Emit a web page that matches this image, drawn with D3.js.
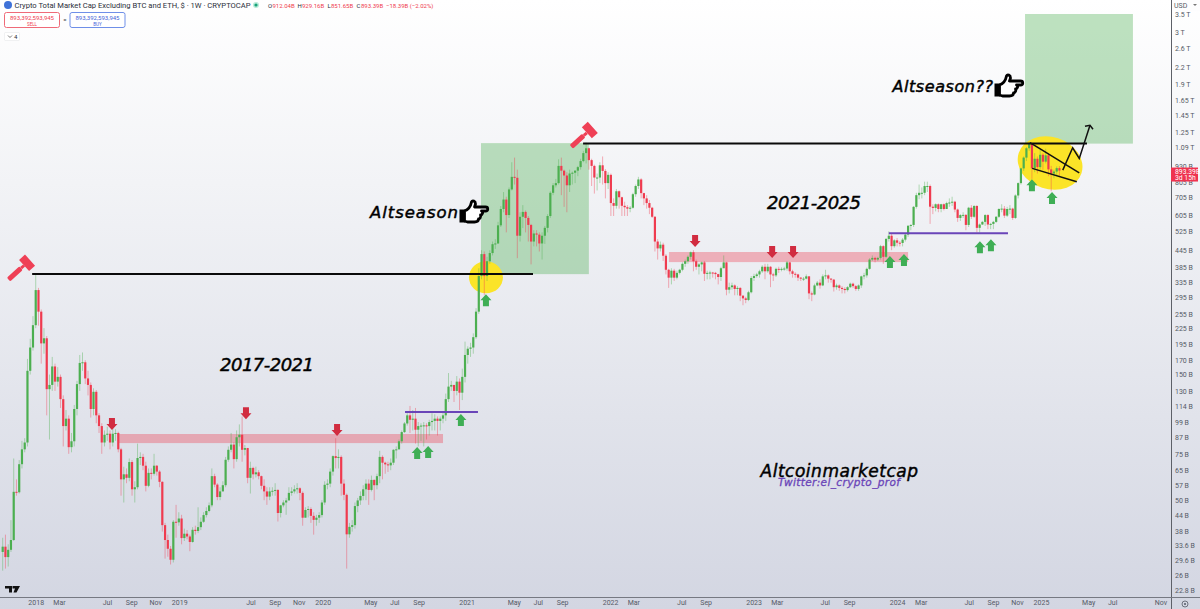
<!DOCTYPE html>
<html><head><meta charset="utf-8">
<style>html,body{margin:0;padding:0;background:#fff}svg{display:block}
.ui{font-family:"Roboto",sans-serif}
.hand{font-family:"DejaVu Sans",sans-serif;font-style:italic;font-weight:400;fill:#000;stroke:#000;stroke-width:.45}
</style>
<script src="https://cdnjs.cloudflare.com/ajax/libs/d3/7.8.5/d3.min.js"></script>
</head><body><svg id="c" width="1200" height="609"></svg>
<script>
// weekly candles, $ billions. open of each week = previous close
const firstWeek = "2017-10-09";
const firstOpen = 31.8;
const closes = [
33.3,30.4,32.4,35.3,53.8,53.6,68.5,78,82.8,155,
190,231,314,260,197,206,132,137,161,141,
147,121,95.6,102,79.5,83.7,111,138,166,167,
145,137,111,129,105,95.6,82.8,88.6,89.4,82.8,
89.4,90,78,60,62.7,60.8,69.8,55,56,72.3,
73,67.6,56.7,63.5,63,67.6,64.2,58.7,40.2,35.3,
32.7,29.7,41.4,41.2,42.6,35.9,37.3,36.4,34.7,38.6,
38.2,39.5,41.4,43.9,45.5,47.8,61.7,57.3,51.4,54,
57,71.2,77.7,81.3,71.6,86.7,88.6,77.7,78.9,60.8,
66.3,62.7,63.8,61.7,56.7,54,51.6,54,54.3,54.7,
44.7,47.8,49,49.9,53.3,54,55,55.5,53.3,42.9,
45.9,46.3,43.6,42.1,42.9,43.9,49,57.2,57.8,64.2,
73.5,72.3,73,57.8,52.4,37.1,39.6,40.2,47.5,49.9,
51.9,55,57.8,54.7,59.7,57,61.7,73,69.4,68.4,
67.8,69.4,77.7,78,83.7,90.7,97.8,105,101,102,
92.6,95.6,96,96.2,95.6,99,100,102,100,102,
105,121,135,137,130,141,128,147,178,188,
190,208,260,355,430,355,404,434,469,472,
553,638,693,605,757,845,838,505,596,622,
590,555,480,515,510,472,505,541,600,735,
785,800,930,892,855,785,870,876,892,920,
970,1040,1085,978,930,840,840,935,890,800,
860,672,656,745,707,656,648,640,645,726,
780,826,733,700,672,645,596,480,452,467,
424,375,350,372,350,365,375,395,404,420,
437,404,385,393,400,362,365,366,365,361,
352,380,400,315,322,327,317,320,299,292,
288,308,349,355,360,370,385,370,385,360,
357,378,376,378,379,400,370,362,360,350,
347,347,354,305,302,327,335,327,354,357,
347,344,322,327,320,317,314,322,332,325,
317,327,354,357,378,410,416,410,416,461,
420,491,505,461,485,475,474,488,510,551,
555,650,720,735,735,780,780,651,644,665,
638,665,638,672,675,680,635,590,605,606,
555,645,596,655,541,557,570,605,557,560,
570,596,638,640,602,638,640,590,718,800,
910,1000,1085,1130,910,990,920,1025,965,1020,
902,870,885,912,893];
const highs = [
36,37,34,42,72,60,71,84,86,172,
205,250,358,320,265,225,210,150,175,165,
160,150,125,110,105,90,115,142,178,182,
170,155,140,133,131,107,98,92,95,92,
94,93,91,79,67,66,72,71,59,82,
76,75,70,66,66,75,68,65,59,41,
37,33.5,42,48,45,44,39,38.5,37,39.5,
40,47,43,45,47,49,66,63,58,56,
59,73,80,90,83,92,97,104,81,79,
70,67,67,65,62,60,56,56,56,58,
55,48,50,51,56,56,57,58,56,54,
47,47.5,47,45,44,45,50,59,60,66,
74,86,78,74,60,53,41,42,49,51,
54,57,60,60,62,60,63,77,74,70,
70,72,78,80,85,92,99,107,114,110,
112,99,98,99,98,101,107,106,104,104,
108,127,152,142,135,148,145,158,200,192,
198,215,268,380,445,440,420,445,480,490,
570,655,740,710,770,960,1000,900,620,660,
630,600,560,530,530,520,520,550,610,745,
800,830,985,1000,900,880,900,885,895,930,
990,1060,1140,1090,990,940,870,960,1010,905,
880,870,700,760,750,710,680,660,655,735,
790,845,835,735,720,690,650,600,490,480,
475,430,378,380,378,372,378,400,410,425,
440,445,410,398,403,405,372,372,368,368,
362,385,425,402,335,335,330,325,322,300,
296,312,355,362,365,375,390,395,395,387,
365,382,385,383,385,405,402,375,367,362,
352,352,360,355,310,332,340,345,360,375,
360,348,346,332,330,325,322,325,335,335,
328,330,356,365,382,415,425,420,420,466,
465,495,525,515,490,495,482,495,515,553,
558,655,735,790,770,810,810,790,665,670,
670,668,670,680,700,710,685,640,610,620,
610,650,660,660,660,562,575,610,610,565,
575,600,642,665,655,650,660,645,725,805,
915,1010,1095,1145,1130,1040,1010,1080,1040,1080,
1040,930,900,925,929];
const lows = [
27,27.5,28,31.8,35,52,53,66,76,80,
150,185,225,230,165,180,105,85,130,130,
135,112,80,92,75,76,80,105,130,155,
138,125,103,105,98,90,75,80,84,78,
80,84,76,52,49,58,59,52,49,55,
68,65,54,56,60,62,62,56,38,30,
30.5,28.5,29,36,40,34,35,35.5,32,34.5,
37,37.5,38.5,41,43,45,47,56,50,50,
54,56,70,76,66,70,80,70,74,58,
53,60,61,60,55,50,48,50,52,52,
41.5,43,47,44,50,52,53,53,50,40,
43,43,41,37,40,41,43,48,55,56,
62,66,66,52,50,27.5,36,38,39,45,
48,50,50,48,54,50,55,58,60,63,
64,65,68,72,78,82,90,96,90,92,
82,80,84,80,85,88,92,92,88,92,
98,100,118,130,118,125,110,120,140,165,
175,180,205,255,345,300,340,395,425,450,
470,545,620,520,590,750,790,415,480,540,
520,480,393,460,460,440,410,470,520,590,
720,770,790,720,650,620,740,790,800,850,
900,960,950,900,780,730,750,800,790,700,
760,600,600,640,640,600,600,600,620,640,
710,760,700,660,640,610,590,440,410,440,
405,360,320,330,340,345,360,370,385,395,
410,370,375,360,370,340,345,345,350,345,
330,340,385,300,305,315,300,300,285,275,
280,285,305,340,350,350,365,345,365,322,
340,352,365,370,372,372,360,350,350,340,
340,340,345,290,285,300,325,318,325,345,
335,335,310,315,312,305,305,310,320,320,
312,312,320,345,350,375,405,400,405,410,
395,415,480,445,455,460,460,460,480,500,
530,545,640,695,700,720,740,560,610,625,
620,620,630,645,650,655,620,570,575,590,
530,545,585,590,520,520,555,550,535,535,
535,565,590,620,590,595,610,580,585,700,
790,890,970,1060,830,880,870,900,900,950,
850,745,835,860,851.65];

const priceTicks = [3500,3000,2600,2200,1900,1650,1450,1250,1090,930,805,705,605,525,445,385,335,295,255,225,195,170,150,130,114,99,87,75,65,57,50,44,38,33.6,29.6,26,22.8];
const priceLabels = ["3.5 T","3 T","2.6 T","2.2 T","1.9 T","1.65 T","1.45 T","1.25 T","1.09 T","930 B","805 B","705 B","605 B","525 B","445 B","385 B","335 B","295 B","255 B","225 B","195 B","170 B","150 B","130 B","114 B","99 B","87 B","75 B","65 B","57 B","50 B","44 B","38 B","33.6 B","29.6 B","26 B","22.8 B"];
const timeTicks = ["2018-01-01","2018-03-01","2018-07-01","2018-09-01","2018-11-01","2019-01-01","2019-07-01","2019-09-01","2019-11-01","2020-01-01","2020-05-01","2020-07-01","2020-09-01","2021-01-01","2021-05-01","2021-07-01","2021-09-01","2022-01-01","2022-03-01","2022-07-01","2022-09-01","2023-01-01","2023-03-01","2023-07-01","2023-09-01","2024-01-01","2024-03-01","2024-07-01","2024-09-01","2024-11-01","2025-01-01","2025-05-01","2025-07-01","2025-11-01"];
const timeLabels = ["2018","Mar","Jul","Sep","Nov","2019","Jul","Sep","Nov","2020","May","Jul","Sep","2021","May","Jul","Sep","2022","Mar","Jul","Sep","2023","Mar","Jul","Sep","2024","Mar","Jul","Sep","Nov","2025","May","Jul","Nov"];

// annotations: week number from firstWeek and price in $B
const greenZones = [[173.8,213,1135,361],[371.5,410.7,3510,1130]];
const pinkZones = [[41.9,160,89.2,82.4],[242.1,329,438,401]];
const blackLevels = [[10.7,192.7,361],[210.9,394,1130]];
const purpleLevels = [[146.2,172.7,108],[322,365.3,516]];
const downArrows = [[39.7,97.3],[88.4,107],[121.5,92.4],[251.6,482],[279.6,438],[287.2,438]];
const upArrows = [[150.6,75.5],[154.6,76.2],[166.5,100.8],[175.6,287],[322.4,401],[327.5,408],[355.1,457],[359.1,465],[374,786],[381.3,702]];
const wedgeLines = [[[373.3,1140],[391.2,875]],[[374.1,910],[390.3,809]]];
const forecastPath = [[385.2,896],[388.8,1090],[391.2,992],[395.1,1327]];
const gavels = [[7.5,387],[212,1235]];
const yellowSpots = [[175.6,351,17,16,0],[380.6,953,33,26,18]];

const N = closes.length;
const WEEK = 7*864e5;
const t0 = Date.parse(firstWeek+"T00:00:00Z");
const week = i => new Date(t0 + i*WEEK);
const x = d3.scaleUtc().domain([week(0),week(385)]).range([2.7,1062.2]);
const y = d3.scaleLog().domain([22.8,3510]).range([590,14]);
const X = i => x(week(i));
const bars = closes.map((c,i)=>({i,o:i?closes[i-1]:firstOpen,c,h:highs[i],l:lows[i]}));

const svg = d3.select("#c");
const defs = svg.append("defs");
const g = defs.append("linearGradient").attr("id","bg").attr("x1",0).attr("x2",0).attr("y1",0).attr("y2",1);
g.append("stop").attr("offset",0).attr("stop-color","#ffffff");
g.append("stop").attr("offset",.3).attr("stop-color","#f2f3f6");
g.append("stop").attr("offset",1).attr("stop-color","#d3d6e2");
svg.append("rect").attr("width",1200).attr("height",609).attr("fill","url(#bg)");
defs.append("clipPath").attr("id","pane").append("rect").attr("width",1171).attr("height",597);

const pane = svg.append("g").attr("clip-path","url(#pane)");
pane.selectAll(".gz").data(greenZones).join("rect")
 .attr("x",d=>X(d[0])).attr("width",d=>X(d[1])-X(d[0])).attr("y",d=>y(d[2])).attr("height",d=>y(d[3])-y(d[2]))
 .attr("fill","#4caf50").attr("fill-opacity",.36);
pane.selectAll(".pz").data(pinkZones).join("rect")
 .attr("x",d=>X(d[0])).attr("width",d=>X(d[1])-X(d[0])).attr("y",d=>y(d[2])).attr("height",d=>y(d[3])-y(d[2]))
 .attr("fill","#ef3f52").attr("fill-opacity",.36);
pane.selectAll(".ys").data(yellowSpots).join("ellipse")
 .attr("cx",0).attr("cy",0).attr("rx",d=>d[2]).attr("ry",d=>d[3])
 .attr("transform",d=>`translate(${X(d[0])},${y(d[1])}) rotate(${d[4]})`)
 .attr("fill","#fbe428");

// candles
const UP="#4caf50", DN="#ef3b4f";
const cg = pane.append("g");
cg.selectAll("line").data(bars).join("line")
 .attr("x1",d=>X(d.i)).attr("x2",d=>X(d.i)).attr("y1",d=>y(d.h)).attr("y2",d=>y(d.l))
 .attr("stroke",d=>d.c>=d.o?UP:DN).attr("stroke-opacity",.45).attr("stroke-width",.9);
cg.selectAll("rect").data(bars).join("rect")
 .attr("x",d=>X(d.i)-1.1).attr("width",2.2)
 .attr("y",d=>y(Math.max(d.o,d.c))).attr("height",d=>Math.max(1,Math.abs(y(d.o)-y(d.c))))
 .attr("fill",d=>d.c>=d.o?UP:DN);

// levels
pane.selectAll(".bl").data(blackLevels).join("line")
 .attr("x1",d=>X(d[0])).attr("x2",d=>X(d[1])).attr("y1",d=>y(d[2])).attr("y2",d=>y(d[2]))
 .attr("stroke","#0a0a0a").attr("stroke-width",2);
pane.selectAll(".pl").data(purpleLevels).join("line")
 .attr("x1",d=>X(d[0])).attr("x2",d=>X(d[1])).attr("y1",d=>y(d[2])).attr("y2",d=>y(d[2]))
 .attr("stroke","#6a45b8").attr("stroke-width",2);
pane.selectAll(".wl").data(wedgeLines).join("line")
 .attr("x1",d=>X(d[0][0])).attr("y1",d=>y(d[0][1])).attr("x2",d=>X(d[1][0])).attr("y2",d=>y(d[1][1]))
 .attr("stroke","#111").attr("stroke-width",1.5);
const pts = forecastPath.map(d=>[X(d[0]),y(d[1])]);
pane.append("path").attr("d",d3.line()(pts)).attr("fill","none").attr("stroke","#111").attr("stroke-width",1.5);
const tip = pts[pts.length-1];
pane.append("path").attr("d",`M${tip[0]-5},${tip[1]+1} L${tip[0]},${tip[1]} L${tip[0]+3},${tip[1]+4}`).attr("fill","none").attr("stroke","#111").attr("stroke-width",1.5);

// arrows
const arrowD="M0,-6 L5.5,0 L3,0 L3,6 L-3,6 L-3,0 L-5.5,0 Z";
pane.selectAll(".ua").data(upArrows).join("path").attr("d",arrowD)
 .attr("transform",d=>`translate(${X(d[0])},${y(d[1])})`).attr("fill","#3fae55");
pane.selectAll(".da").data(downArrows).join("path").attr("d",arrowD)
 .attr("transform",d=>`translate(${X(d[0])},${y(d[1])}) rotate(180)`).attr("fill","#d12c40");

// gavels
const gv = pane.selectAll(".gv").data(gavels).join("g")
 .attr("transform",d=>`translate(${X(d[0])},${y(d[1])}) rotate(-42)`).attr("fill","#ef4056");
gv.append("rect").attr("x",-20).attr("y",-2.5).attr("width",17).attr("height",5).attr("rx",1.5);
gv.append("rect").attr("x",-3).attr("y",-1.5).attr("width",4).attr("height",3);
gv.append("rect").attr("x",1).attr("y",-7.5).attr("width",8).attr("height",15);

// text
const T=(s,px,py,fs,w)=>pane.append("text").attr("class","hand").attr("x",px).attr("y",py).attr("font-size",fs)
  .attr("textLength",w).attr("lengthAdjust","spacing").text(s);
T("2017-2021",220,371,18,94);
T("2021-2025",767,208.5,18,94);
T("Altseason",370,218,16.5,88);
T("Altseason??",892.5,92,16,100.5);
T("Altcoinmarketcap",760.5,476.7,17,157.5);
T("Twitter:el_crypto_prof",778,485.5,10.5,122).style("fill","#6a45b8").style("stroke","#6a45b8").style("stroke-width",.3);

// pointing hands
const handD="M5,10 C8,9 11,6 12,1 C13,-1 16,0 16,3 L15,6 L26,6 C29,6 29,10 26,10 L22,10 C24,11 23,14 21,14 C22,16 20,18 19,18 C19,21 17,21 15,21 L8,21 L5,20 Z";
[[459.5,201],[994.5,75]].forEach(p=>{
 const h=pane.append("g").attr("transform",`translate(${p[0]},${p[1]})`);
 h.append("rect").attr("x",0).attr("y",8.5).attr("width",5.5).attr("height",13).attr("fill","#000");
 h.append("path").attr("d",handD).attr("fill","#fff").attr("stroke","#000").attr("stroke-width",2.8).attr("stroke-linejoin","round");
});

// TV mark
const tv=pane.append("g").attr("transform","translate(5,586)").attr("fill","#111");
tv.append("path").attr("d","M0,0 H7 V6.5 H4 V2.5 H0 Z");
tv.append("path").attr("d","M7.5,0 H15 L11.5,6.5 H8.5 L10,2.5 H7.5 Z");

// right axis
svg.append("line").attr("x1",1171.5).attr("x2",1171.5).attr("y1",0).attr("y2",609).attr("stroke","#5d6068").attr("stroke-width",1);
svg.append("line").attr("x1",0).attr("x2",1200).attr("y1",597.5).attr("y2",597.5).attr("stroke","#767982").attr("stroke-width",1);
const ya = d3.axisRight(y).tickValues(priceTicks).tickSize(0).tickPadding(0)
 .tickFormat((d,i)=>priceLabels[i]);
const yg = svg.append("g").attr("class","ui").attr("transform","translate(1175,0)").call(ya);
yg.select(".domain").remove();
yg.selectAll("text").attr("font-size",7).attr("font-family","Roboto,sans-serif").attr("fill","#555a66");
const xa = d3.axisBottom(x).tickValues(timeTicks.map(d=>new Date(d+"T00:00:00Z"))).tickSize(0).tickPadding(0)
 .tickFormat((d,i)=>timeLabels[i]);
const xg = svg.append("g").attr("transform","translate(0,600)").call(xa);
xg.select(".domain").remove();
xg.selectAll("text").attr("font-size",7).attr("font-family","Roboto,sans-serif").attr("fill","#555a66");

// USD + settings
svg.append("rect").attr("x",1172).attr("y",0).attr("width",28).attr("height",11).attr("fill","#fdfdfe");
svg.append("text").attr("class","ui").attr("x",1174).attr("y",8).attr("font-size",7).attr("fill","#555a66").text("USD");
svg.append("path").attr("d","M1193,4 l4,0 l-2,2 z").attr("fill","#777");
svg.append("circle").attr("cx",1185).attr("cy",604).attr("r",3).attr("fill","none").attr("stroke","#555a66").attr("stroke-width",.8);
svg.append("circle").attr("cx",1185).attr("cy",604).attr("r",1).attr("fill","#555a66");

// price tag
const lastY = y(closes[N-1]);
svg.append("rect").attr("x",1171).attr("y",lastY-3).attr("width",27).attr("height",14).attr("fill","#ef3350");
svg.append("text").attr("class","ui").attr("x",1175).attr("y",lastY+3).attr("font-size",6.8).attr("fill","#fff").text("893.39B");
svg.append("text").attr("class","ui").attr("x",1175).attr("y",lastY+9.5).attr("font-size",6.8).attr("fill","#fff").text("3d 15h");

// header
const hd = svg.append("g").attr("class","ui");
hd.append("circle").attr("cx",8).attr("cy",5).attr("r",4).attr("fill","#3f72d8");
hd.append("text").attr("x",14.5).attr("y",7.7).attr("font-size",7.6).attr("fill","#2a2e39").text("Crypto Total Market Cap Excluding BTC and ETH, $ · 1W · CRYPTOCAP");
hd.append("circle").attr("cx",256).attr("cy",5).attr("r",3).attr("fill","#b9ebd9");
hd.append("circle").attr("cx",256).attr("cy",5).attr("r",1.6).attr("fill","#1aa37a");
const parts=[["O",268,"#2a2e39"],["912.04B",272.5,"#ef3b4f"],["H",297.5,"#2a2e39"],["929.16B",302,"#ef3b4f"],["L",327.5,"#2a2e39"],["851.65B",331,"#ef3b4f"],["C",356.5,"#2a2e39"],["893.39B",361,"#ef3b4f"],["−18.39B (−2.02%)",386,"#ef3b4f"]];
parts.forEach(p=>hd.append("text").attr("x",p[1]).attr("y",7.7).attr("font-size",6).attr("fill",p[2]).text(p[0]));
hd.append("rect").attr("x",4.5).attr("y",12.5).attr("width",55).attr("height",15).attr("rx",2).attr("fill","#fff").attr("stroke","#ef6a78");
hd.append("text").attr("x",32).attr("y",19.5).attr("text-anchor","middle").attr("font-size",6).attr("fill","#ef3b4f").text("893,392,593,945");
hd.append("text").attr("x",32).attr("y",26).attr("text-anchor","middle").attr("font-size",4.5).attr("fill","#ef3b4f").text("SELL");
hd.append("text").attr("x",65).attr("y",22).attr("text-anchor","middle").attr("font-size",6).attr("fill","#2a2e39").text("=");
hd.append("rect").attr("x",70).attr("y",12.5).attr("width",55).attr("height",15).attr("rx",2).attr("fill","#fff").attr("stroke","#6f8fe8");
hd.append("text").attr("x",97.5).attr("y",19.5).attr("text-anchor","middle").attr("font-size",6).attr("fill","#3f62d8").text("893,392,593,945");
hd.append("text").attr("x",97.5).attr("y",26).attr("text-anchor","middle").attr("font-size",4.5).attr("fill","#3f62d8").text("BUY");
hd.append("rect").attr("x",4.5).attr("y",32.5).attr("width",15).attr("height",8).attr("rx",1).attr("fill","#fff").attr("stroke","#e6e7ea").attr("stroke-width",.6);
hd.append("path").attr("d","M8,35.5 l2,2 l2,-2").attr("fill","none").attr("stroke","#444").attr("stroke-width",.7);
hd.append("text").attr("x",14).attr("y",38.7).attr("font-size",6).attr("fill","#2a2e39").text("4");
</script></body></html>
